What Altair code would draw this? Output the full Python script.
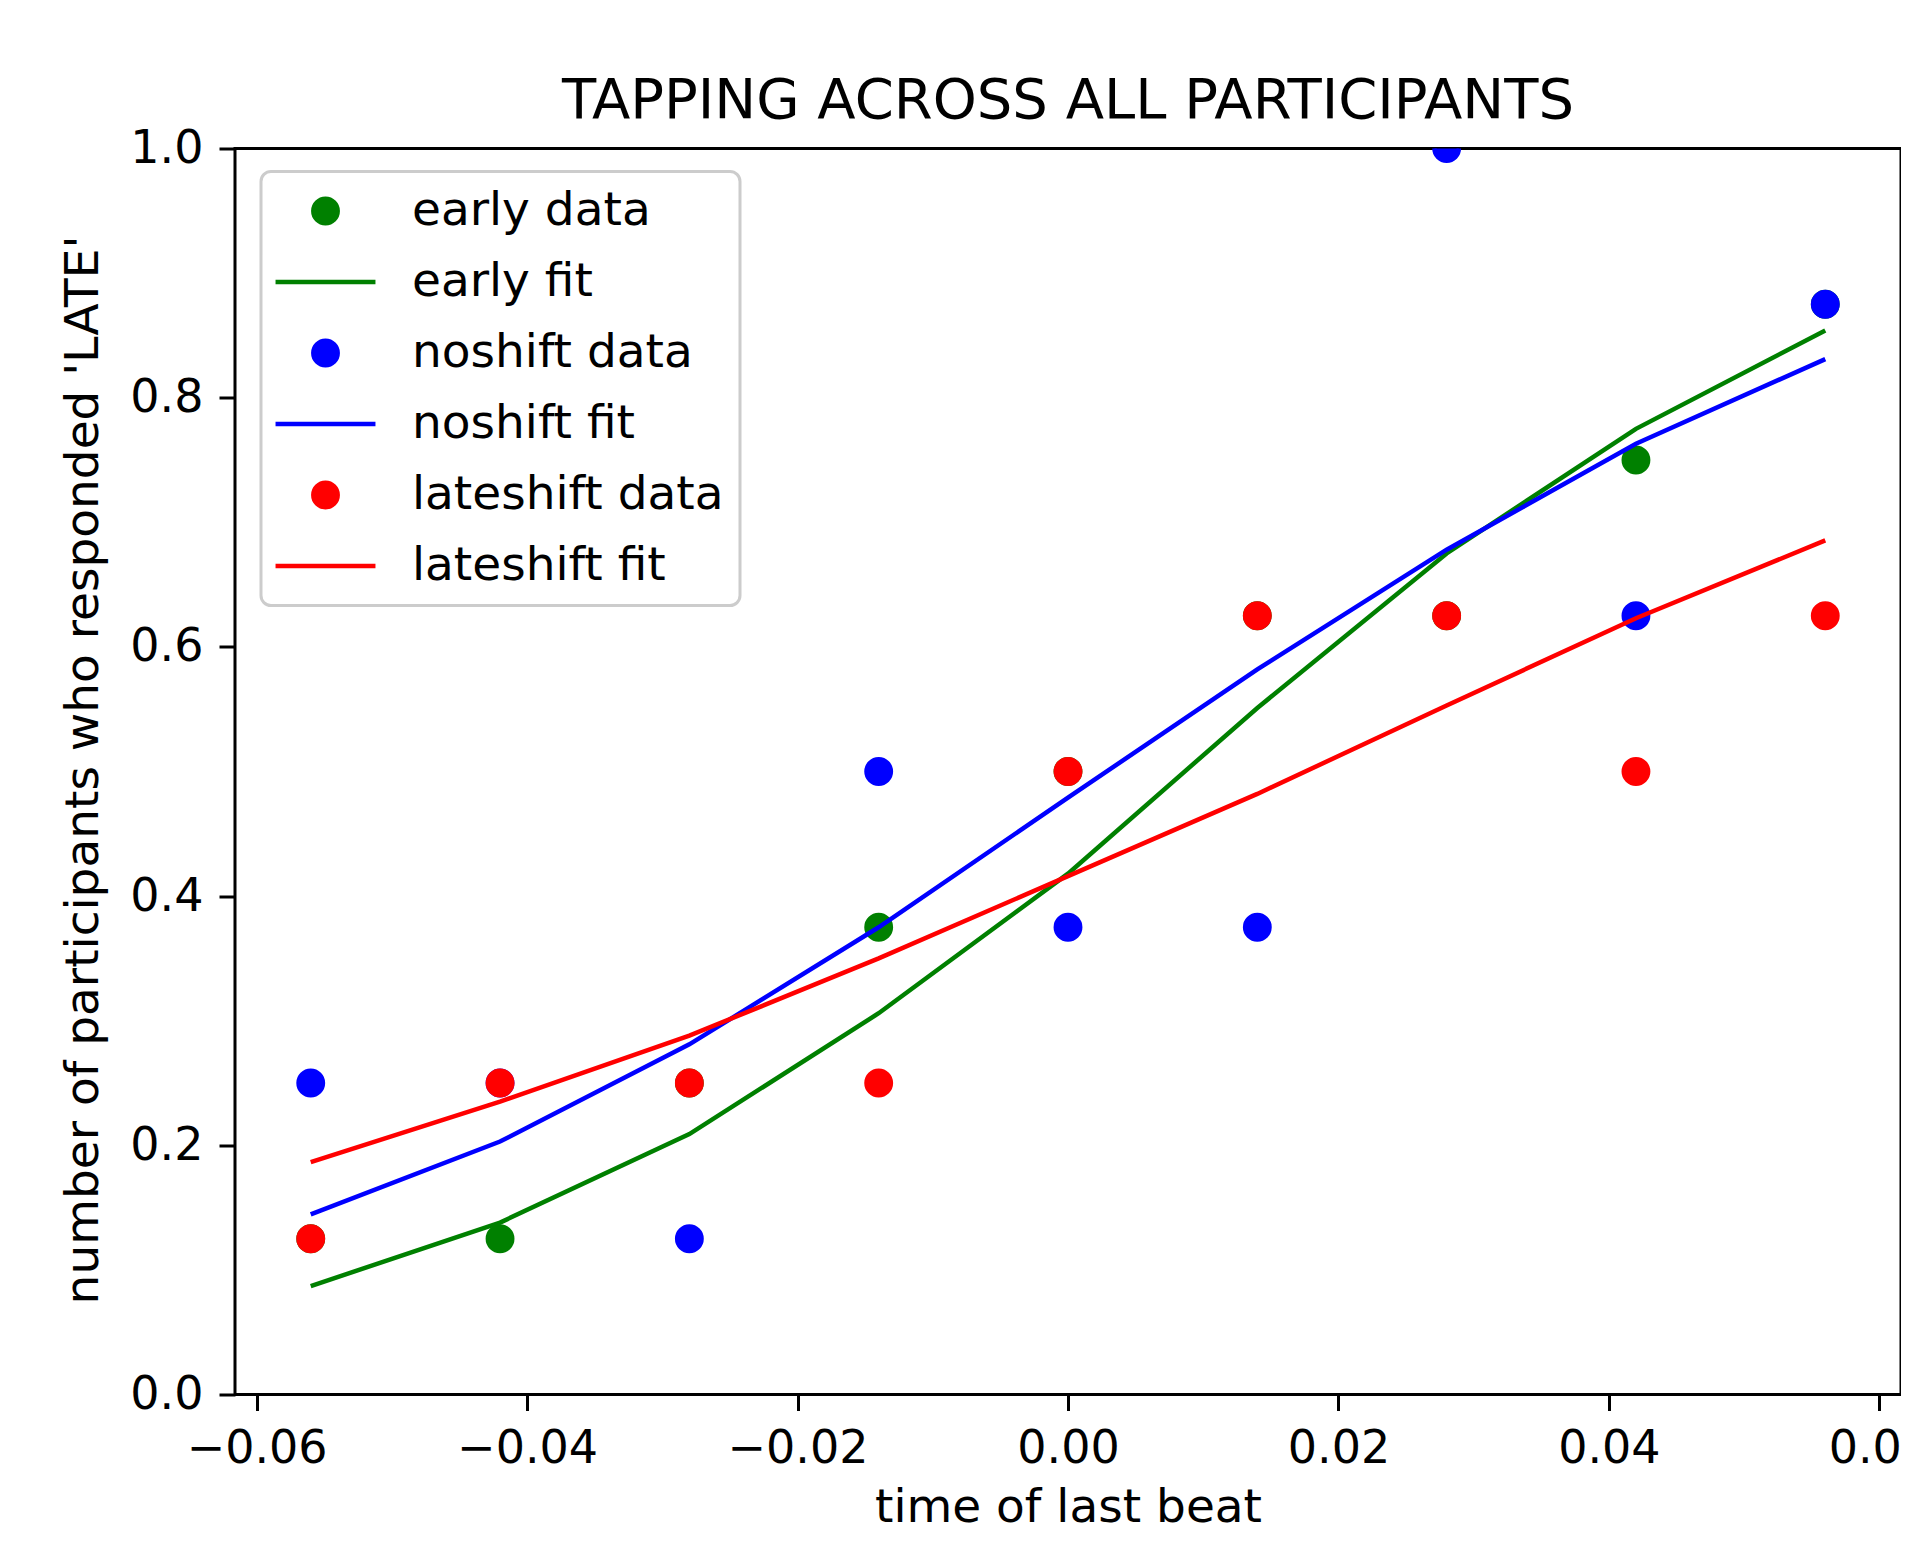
import altair as alt
import pandas as pd

# ---- data ----
beat_times = [-0.056, -0.042, -0.028, -0.014, 0.0, 0.014, 0.028, 0.042, 0.056]

early_data = [0.125, 0.125, 0.25, 0.375, 0.5, 0.625, 0.625, 0.75, 0.875]
early_fit = [0.087, 0.138, 0.209, 0.306, 0.418, 0.551, 0.675, 0.775, 0.854]

noshift_data = [0.25, 0.25, 0.125, 0.5, 0.375, 0.375, 1.0, 0.625, 0.875]
noshift_fit = [0.1445, 0.203, 0.281, 0.375, 0.479, 0.582, 0.678, 0.763, 0.831]

lateshift_data = [0.125, 0.25, 0.25, 0.25, 0.5, 0.625, 0.625, 0.5, 0.625]
lateshift_fit = [0.1865, 0.235, 0.288, 0.35, 0.416, 0.482, 0.553, 0.623, 0.6855]

groups = ["early", "noshift", "lateshift"]
series_names = ["early data", "early fit", "noshift data", "noshift fit",
                "lateshift data", "lateshift fit"]
series_colors = ["#008000", "#008000", "#0000ff", "#0000ff", "#ff0000", "#ff0000"]

x_ticks = [-0.06, -0.04, -0.02, 0.0, 0.02, 0.04, 0.06]
y_ticks = [0.0, 0.2, 0.4, 0.6, 0.8, 1.0]

# ---- build table ----
values = {
    "early data": early_data, "early fit": early_fit,
    "noshift data": noshift_data, "noshift fit": noshift_fit,
    "lateshift data": lateshift_data, "lateshift fit": lateshift_fit,
}
rows = []
for name in series_names:
    for t, v in zip(beat_times, values[name]):
        rows.append({"time": t, "value": v, "series": name})
df = pd.DataFrame(rows)

LINE_SHAPE = "M-4.1,0H4.1"
shapes = ["circle" if n.endswith("data") else LINE_SHAPE for n in series_names]

FONT = "DejaVu Sans"
W, H = 1666, 1246
POINT_SIZE = 594
LW = 4.5

legend = alt.Legend(title=None, orient="none", legendX=26, legendY=23)
fill_enc = alt.Fill("series:N", scale=alt.Scale(domain=series_names, range=series_colors), legend=legend)
stroke_enc = alt.Stroke("series:N", scale=alt.Scale(domain=series_names, range=series_colors), legend=legend)
shape_enc = alt.Shape("series:N", scale=alt.Scale(domain=series_names, range=shapes), legend=legend)

x_enc = alt.X("time:Q",
              scale=alt.Scale(domain=[-0.0616, 0.0616], nice=False, zero=False),
              axis=alt.Axis(values=x_ticks, format=".2f", title="time of last beat",
                            titleBaseline="alphabetic", titleY=127, titleX=W / 2,
                            titleAlign="center"))
y_enc = alt.Y("value:Q",
              scale=alt.Scale(domain=[0, 1], nice=False, zero=False),
              axis=alt.Axis(values=y_ticks, format=".1f",
                            title="number of participants who responded 'LATE'",
                            titleAngle=270, titleBaseline="alphabetic",
                            titleX=-138, titleY=621, titleAlign="center"))

layers = []
for g in groups:
    pts = alt.Chart().mark_point(filled=True, size=POINT_SIZE, strokeWidth=LW,
                                 opacity=1, clip=True).encode(
        x=x_enc, y=y_enc, fill=fill_enc, stroke=stroke_enc, shape=shape_enc
    ).transform_filter(alt.datum.series == f"{g} data")
    ln = alt.Chart().mark_line(strokeWidth=LW, clip=True).encode(
        x=x_enc, y=y_enc, stroke=stroke_enc
    ).transform_filter(alt.datum.series == f"{g} fit")
    layers += [pts, ln]

chart = alt.layer(*layers, data=df).properties(
    width=W, height=H,
    title=alt.Title("TAPPING ACROSS ALL PARTICIPANTS", font=FONT, fontSize=56,
                    fontWeight="normal", color="black", anchor="middle",
                    offset=8, dy=12),
    autosize=alt.AutoSizeParams(type="none"),
    padding={"left": 227, "top": 140.5, "right": 0, "bottom": 140},
).configure_view(
    stroke="black", strokeWidth=3
).configure_axis(
    grid=False, domain=False,
    labelFont=FONT, labelFontSize=46, labelColor="black",
    tickColor="black", tickWidth=3, tickSize=16, labelPadding=16,
    titleFont=FONT, titleFontSize=47, titleFontWeight="normal", titleColor="black",
).configure_legend(
    labelFont=FONT, labelFontSize=47, labelColor="black",
    symbolSize=POINT_SIZE, symbolStrokeWidth=LW, symbolFillColor="transparent",
    padding=16, rowPadding=23, symbolOffset=25, labelOffset=63,
    cornerRadius=10, strokeColor="#cccccc", strokeWidth=3,
    fillColor="rgba(255,255,255,0.8)", labelLimit=0,
)

chart.save("out.html", embed_options={"renderer": "svg", "actions": False})
